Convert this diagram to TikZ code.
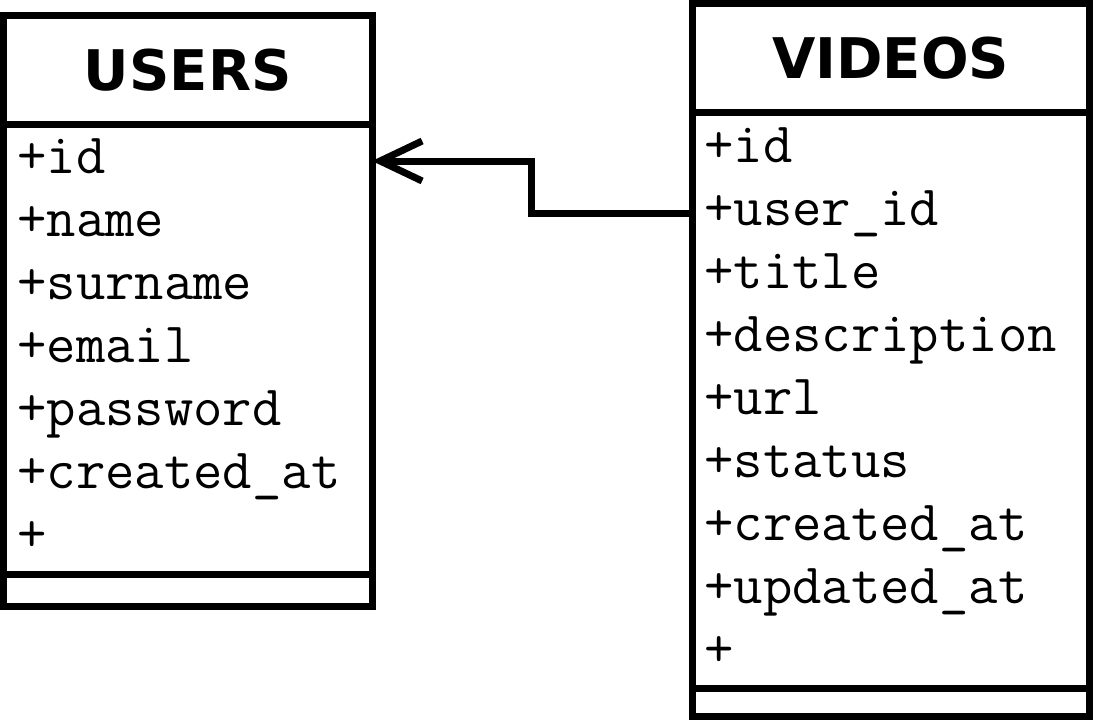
\documentclass[tikz,border=0pt]{standalone}
\usepackage{fontspec}
\newfontfamily\headfont{DejaVu Sans}
\usetikzlibrary{arrows.meta,positioning}

\begin{document}
\begin{tikzpicture}[
    x=1pt, y=-1pt,
    line width=7pt,
    box/.style={draw, line width=7pt, inner sep=0pt, outer sep=0pt},
    head/.style={box, minimum height=108.5pt, font=\headfont\bfseries\fontsize{56pt}{60pt}\selectfont},
    attr/.style={anchor=west, inner sep=0pt, text height=36pt, text depth=12pt, font=\ttfamily\fontsize{57pt}{60pt}\selectfont},
    link/.style={line width=7pt, -{Straight Barb[length=42pt, width=40pt]}}
]
\useasboundingbox (0,0) rectangle (1094,720);

\node[head, minimum width=368.5pt, anchor=north west] (users) at (3.5,15.5) {USERS};
\node[box, minimum width=368.5pt, minimum height=450.5pt, below=0pt of users] (ubody) {};
\node[box, minimum width=368.5pt, minimum height=31.5pt, below=0pt of ubody] (ufoot) {};

\node[head, minimum width=397.5pt, anchor=north west] (videos) at (692,3.5) {VIDEOS};
\node[box, minimum width=397.5pt, minimum height=576pt, below=0pt of videos] (vbody) {};
\node[box, minimum width=397.5pt, minimum height=28pt, below=0pt of vbody] (vfoot) {};

\foreach \a [count=\i] in {+id,+name,+surname,+email,+password,+created\_at,+}
    \node[attr] (u\i) at (14, 98+63*\i) {\a};
\foreach \a [count=\i] in {+id,+user\_id,+title,+description,+url,+status,+created\_at,+updated\_at,+}
    \node[attr] (v\i) at (701, 87+63*\i) {\a};

\draw[link] (vbody.west |- v2.west) -- ++(-160.5,0) |- (ubody.east |- u1.west);
\end{tikzpicture}
\end{document}
